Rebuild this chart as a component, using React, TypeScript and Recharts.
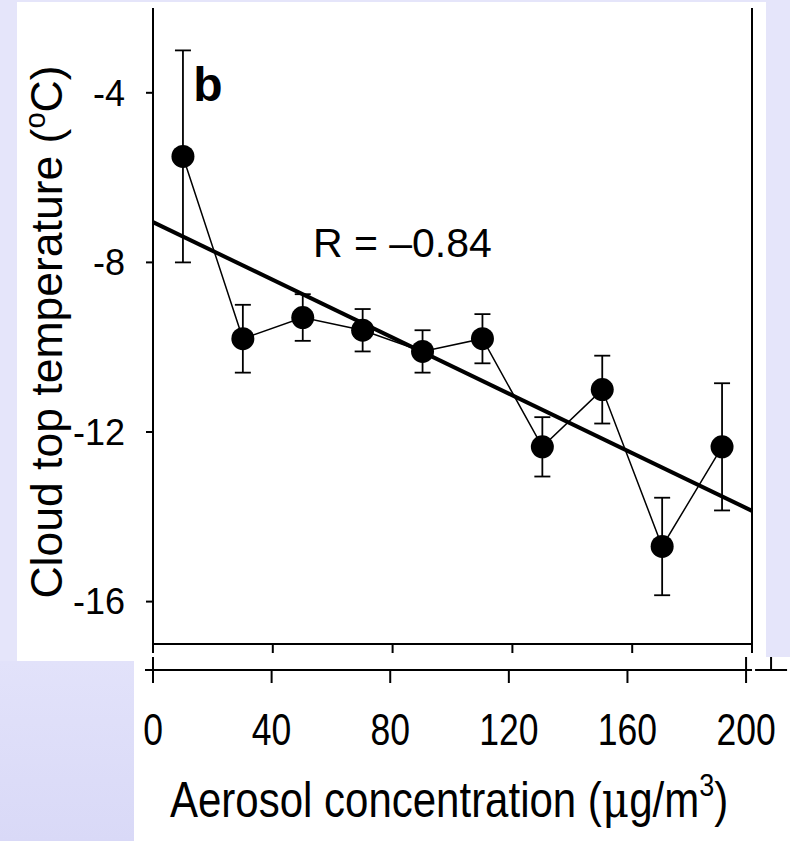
import {
  ComposedChart,
  Scatter,
  ErrorBar,
  XAxis,
  YAxis,
  ReferenceLine,
  ReferenceDot,
} from 'recharts';

// aerosol bins (µg/m3) and mean cloud top temperature (°C) with error bars
const aerosol = [10, 30, 50, 70, 90, 110, 130, 150, 170, 190];
const cloudTop = [-5.5, -9.8, -9.3, -9.6, -10.1, -9.8, -12.35, -11.0, -14.7, -12.35];
const errors = [2.5, 0.8, 0.55, 0.5, 0.5, 0.58, 0.7, 0.8, 1.15, 1.5];

// linear fit endpoints
const fitX = [0, 200];
const fitY = [-7.05, -13.86];

const xTicks = [0, 40, 80, 120, 160, 200];
const yTicks = [-4, -8, -12, -16];

const FONT = 'Arial, "Liberation Sans", sans-serif';

const points = aerosol.map((x, i) => ({ x, y: cloudTop[i], err: errors[i] }));

function Dot(props: any) {
  const { cx, cy } = props;
  return <circle cx={cx} cy={cy} r={11.5} fill="#000" />;
}

const NoMark = () => <g />;

// tick label of the lower axis; the end ticks also get the little break marks
function LowerTick({ x, y, payload }: any) {
  const axisY = y - 13;
  return (
    <g>
      {payload.value === 0 && (
        <g stroke="#000" strokeWidth={2}>
          <line x1={x} y1={axisY - 13} x2={x} y2={axisY} />
          <line x1={x - 8} y1={axisY} x2={x} y2={axisY} />
        </g>
      )}
      {payload.value === 200 && (
        <g stroke="#000" strokeWidth={2}>
          <line x1={x} y1={axisY - 13} x2={x} y2={axisY} />
          <line x1={x + 9} y1={axisY} x2={x + 41} y2={axisY} />
          <line x1={x + 25} y1={axisY - 13} x2={x + 25} y2={axisY} />
        </g>
      )}
      <text
        transform={`translate(${x},${y + 62}) scale(1,1.25)`}
        textAnchor="middle"
        fontSize={35.5}
        fontFamily={FONT}
        fill="#000"
      >
        {payload.value}
      </text>
    </g>
  );
}

function XTitle() {
  return (
    <text
      transform="translate(170,817) scale(1,1.19)"
      fontSize={42}
      fontFamily={FONT}
      fill="#000"
    >
      Aerosol concentration (
      <tspan fontFamily="'DejaVu Serif', serif">μ</tspan>
      g/m
      <tspan fontSize={27} dy={-18}>3</tspan>
      <tspan dy={18}>)</tspan>
    </text>
  );
}

function YTitle() {
  return (
    <text
      transform="translate(62,332) rotate(-90)"
      textAnchor="middle"
      fontSize={44.5}
      fontFamily={FONT}
      fill="#000"
    >
      Cloud top temperature (
      <tspan fontSize={29} dy={-17}>o</tspan>
      <tspan dy={17}>C)</tspan>
    </text>
  );
}

function PanelLetter({ viewBox }: any) {
  return (
    <text x={viewBox.x} y={viewBox.y} fontSize={48} fontWeight="bold" fontFamily={FONT} fill="#000">
      b
    </text>
  );
}

function CorrLabel({ viewBox }: any) {
  return (
    <text x={viewBox.x} y={viewBox.y} fontSize={41} fontFamily={FONT} fill="#000">
      R = –0.84
    </text>
  );
}

export default function App() {
  return (
    <div
      style={{
        position: 'absolute',
        left: 0,
        top: 0,
        width: 790,
        height: 841,
        background: '#E5E5FA',
        overflow: 'hidden',
      }}
    >
      <div style={{ position: 'absolute', left: 0, top: 661, width: 134, height: 180, background: 'linear-gradient(#E2E2FA, #D9D9F7)' }} />
      <div style={{ position: 'absolute', left: 17, top: 2, width: 749, height: 659, background: '#fff' }} />
      <div style={{ position: 'absolute', left: 134, top: 657, width: 656, height: 184, background: '#fff' }} />
      <div style={{ position: 'absolute', left: 0, top: 0 }}>
        <ComposedChart width={790} height={841} margin={{ top: 8, right: 0, bottom: 51, left: 93 }}>
          <XAxis
            type="number"
            dataKey="x"
            domain={[0, 200]}
            ticks={xTicks}
            tick={<NoMark />}
            height={26}
            tickSize={9}
            stroke="#000"
            strokeWidth={2}
          />
          <XAxis
            xAxisId="lower"
            type="number"
            dataKey="x"
            domain={[0, 202]}
            ticks={xTicks}
            tick={<LowerTick />}
            tickSize={13}
            tickMargin={0}
            height={120}
            stroke="#000"
            strokeWidth={2}
            label={<XTitle />}
          />
          <YAxis
            type="number"
            domain={[-17, -2]}
            ticks={yTicks}
            width={60}
            tickSize={7}
            tickMargin={21}
            stroke="#000"
            strokeWidth={2}
            tick={{ fill: '#000', fontSize: 36, fontFamily: FONT }}
            label={<YTitle />}
          />
          <YAxis
            yAxisId="right"
            orientation="right"
            type="number"
            domain={[-17, -2]}
            width={38}
            tick={false}
            tickLine={false}
            stroke="#000"
            strokeWidth={2}
          />
          <ReferenceLine
            segment={[
              { x: fitX[0], y: fitY[0] },
              { x: fitX[1], y: fitY[1] },
            ]}
            stroke="#000"
            strokeWidth={4}
          />
          {/* invisible series so the lower axis gets its scale */}
          <Scatter
            xAxisId="lower"
            data={points}
            dataKey="y"
            shape={<NoMark />}
            isAnimationActive={false}
          />
          <Scatter
            data={points}
            dataKey="y"
            fill="#000"
            line={{ stroke: '#000', strokeWidth: 1.5 }}
            shape={<Dot />}
            isAnimationActive={false}
          >
            <ErrorBar dataKey="err" direction="y" width={8} stroke="#000" strokeWidth={1.8} />
          </Scatter>
          <ReferenceDot x={13.4} y={-4.19} r={0} fill="none" stroke="none" label={<PanelLetter />} />
          <ReferenceDot x={53.4} y={-7.88} r={0} fill="none" stroke="none" label={<CorrLabel />} />
        </ComposedChart>
      </div>
    </div>
  );
}
